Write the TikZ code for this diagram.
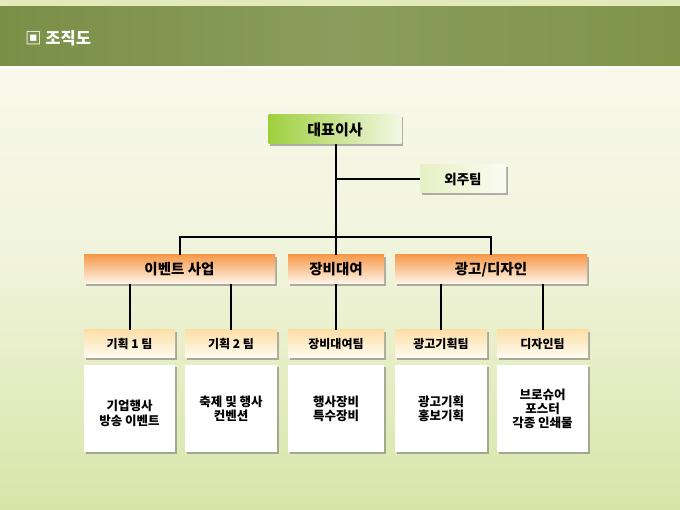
\documentclass[tikz,border=0pt]{standalone}
\usepackage{fontspec}
\setmainfont{Noto Sans CJK KR}
\usetikzlibrary{shadows}
\definecolor{bgtop}{HTML}{FAFAF0}
\definecolor{bgmid}{HTML}{F1F4DC}
\definecolor{bgbot}{HTML}{D8E5A8}
\definecolor{hdL}{HTML}{7A8F46}
\definecolor{hdM}{HTML}{8A9D5E}
\definecolor{hdR}{HTML}{7F9449}
\definecolor{strip}{HTML}{E2EAB9}
\definecolor{ceoL}{HTML}{9FCF3E}
\definecolor{ceoR}{HTML}{F4F8E4}
\definecolor{outL}{HTML}{E6F0C4}
\definecolor{outR}{HTML}{FBFCF2}
\definecolor{orT}{HTML}{F69A4C}
\definecolor{orB}{HTML}{FFF6EC}
\definecolor{tmT}{HTML}{FCDFA8}
\definecolor{tmB}{HTML}{FFFCF2}
\tikzset{
  box/.style={inner sep=0pt, align=center, text=black,
    drop shadow={shadow xshift=1.6pt, shadow yshift=-1.6pt, fill=black!55, opacity=0.55}},
  ceobox/.style={box, shading=axis, left color=ceoL, right color=ceoR,
    minimum width=133pt, minimum height=29pt, font=\bfseries\fontsize{15}{17}\selectfont},
  outbox/.style={box, shading=axis, left color=outL, right color=outR,
    minimum width=86pt, minimum height=28pt, font=\bfseries\fontsize{13.5}{15}\selectfont},
  divbox/.style={box, shading=axis, top color=orT, bottom color=orB,
    minimum height=29pt, font=\bfseries\fontsize{14.5}{16}\selectfont},
  teambox/.style={box, shading=axis, top color=tmT, bottom color=tmB,
    minimum height=28pt, font=\bfseries\fontsize{12}{14}\selectfont},
  descbox/.style={box, fill=white,
    minimum height=87pt, font=\bfseries\fontsize{12.5}{14}\selectfont},
  link/.style={draw=black, line width=2pt}
}
\begin{document}
\begin{tikzpicture}[x=1pt,y=-1pt]
\useasboundingbox (0,0) rectangle (680,510);
% background
\shade[top color=bgtop, bottom color=bgmid] (0,0) rectangle (680,255);
\shade[top color=bgmid, bottom color=bgbot] (0,255) rectangle (680,510);
% header
\fill[strip] (0,0) rectangle (680,7);
\shade[left color=hdL, right color=hdR, middle color=hdM] (0,7) rectangle (680,66);
\fill[white!85!strip] (0,66) rectangle (680,69);
\node[anchor=west, text=white, font=\bfseries\fontsize{16.5}{19}\selectfont, inner sep=0pt] (title) at (25,38) {▣ 조직도};
% nodes
\node[ceobox] (ceo) at (335,129.5) {대표이사};
\node[outbox] (out) at (463,179) {외주팀};
\node[divbox, minimum width=191pt] (ev) at (179.5,269.5) {이벤트 사업};
\node[divbox, minimum width=96pt] (eq) at (336,269.5) {장비대여};
\node[divbox, minimum width=192pt] (ad) at (491,269.5) {광고/디자인};
\node[teambox, minimum width=91pt] (t1) at (129.5,344) {기획 1 팀};
\node[teambox, minimum width=92pt] (t2) at (231,344) {기획 2 팀};
\node[teambox, minimum width=96pt] (t3) at (336,344) {장비대여팀};
\node[teambox, minimum width=92pt] (t4) at (441,344) {광고기획팀};
\node[teambox, minimum width=91pt] (t5) at (542.5,344) {디자인팀};
\node[descbox, minimum width=91pt] (d1) at (129.5,408.5) {\begin{tabular}{@{}c@{}}\rule{0pt}{23pt}기업행사\\방송 이벤트\end{tabular}};
\node[descbox, minimum width=92pt] (d2) at (231,408.5) {축제 및 행사\\컨벤션};
\node[descbox, minimum width=96pt] (d3) at (336,408.5) {행사장비\\특수장비};
\node[descbox, minimum width=92pt] (d4) at (441,408.5) {광고기획\\홍보기획};
\node[descbox, minimum width=91pt] (d5) at (542.5,408.5) {브로슈어\\포스터\\각종 인쇄물};
% connectors
\coordinate (j) at (336,237);
\draw[link] (ceo.south -| j) -- (j);
\draw[link] (ceo.south -| j) |- (out.west);
\draw[link] (ev.north) -- (ev.north |- j) -- (ad.north |- j) -- (ad.north);
\draw[link] (j) -- (eq.north);
\draw[link] (ev.south -| t1.north) -- (t1.north);
\draw[link] (ev.south -| t2.north) -- (t2.north);
\draw[link] (eq.south) -- (t3.north);
\draw[link] (ad.south -| t4.north) -- (t4.north);
\draw[link] (ad.south -| t5.north) -- (t5.north);
\end{tikzpicture}
\end{document}
